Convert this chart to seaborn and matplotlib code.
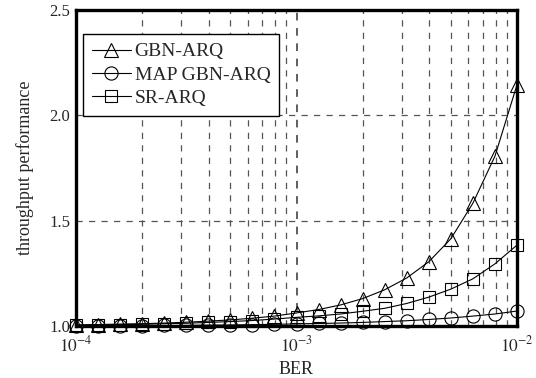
import numpy as np
import pandas as pd
import matplotlib
matplotlib.use("Agg")
import matplotlib.pyplot as plt
import seaborn as sns
from matplotlib.ticker import LogLocator, NullFormatter

# ---- data ----
ber = [1.000e-4, 1.259e-4, 1.585e-4, 1.995e-4, 2.512e-4, 3.162e-4, 3.981e-4,
       5.012e-4, 6.310e-4, 7.943e-4, 1.000e-3, 1.259e-3, 1.585e-3, 1.995e-3,
       2.512e-3, 3.162e-3, 3.981e-3, 5.012e-3, 6.310e-3, 7.943e-3, 1.000e-2]
gbn_arq = [1.005, 1.007, 1.009, 1.011, 1.014, 1.018, 1.023, 1.029, 1.037, 1.047,
           1.062, 1.078, 1.100, 1.130, 1.172, 1.228, 1.305, 1.414, 1.583, 1.806, 2.145]
map_gbn_arq = [1.001, 1.001, 1.0015, 1.002, 1.0025, 1.003, 1.004, 1.005, 1.0065, 1.008,
               1.010, 1.012, 1.014, 1.017, 1.021, 1.025, 1.031, 1.038, 1.047, 1.057, 1.071]
sr_arq = [1.004, 1.005, 1.007, 1.008, 1.011, 1.013, 1.017, 1.021, 1.026, 1.033,
          1.041, 1.048, 1.057, 1.070, 1.084, 1.107, 1.137, 1.175, 1.224, 1.295, 1.384]
series_names = ["GBN-ARQ", "MAP GBN-ARQ", "SR-ARQ"]
x_ticks = [1e-4, 1e-3, 1e-2]
x_tick_labels = [r"$10^{-4}$", r"$10^{-3}$", r"$10^{-2}$"]
y_ticks = [1.0, 1.5, 2.0, 2.5]
y_tick_labels = ["1.0", "1.5", "2.0", "2.5"]

sns.set_style("white")
plt.rcParams["font.family"] = ["Liberation Serif", "DejaVu Serif"]
plt.rcParams["mathtext.fontset"] = "stix"

fig = plt.figure(figsize=(5.36, 3.78), dpi=100)
ax = fig.add_axes([76/536, 1-326/378, 441/536, 316/378])

df = pd.DataFrame({"BER": ber, "GBN-ARQ": gbn_arq,
                   "MAP GBN-ARQ": map_gbn_arq, "SR-ARQ": sr_arq})
markers = {"GBN-ARQ": ("^", 10), "MAP GBN-ARQ": ("o", 9.5), "SR-ARQ": ("s", 8)}
for name in series_names:
    m, ms = markers[name]
    sns.lineplot(data=df, x="BER", y=name, ax=ax, color="black", lw=0.8,
                 marker=m, markersize=ms, markerfacecolor="none",
                 markeredgecolor="black", markeredgewidth=0.8,
                 label=name, clip_on=False, zorder=5)

ax.set_xscale("log")
ax.set_xlim(1e-4, 1e-2)
ax.set_ylim(1.0, 2.5)
ax.set_xticks(x_ticks)
ax.set_xticklabels(x_tick_labels, fontsize=12.5)
ax.xaxis.set_minor_locator(LogLocator(base=10, subs=np.arange(2, 10)))
ax.xaxis.set_minor_formatter(NullFormatter())
ax.set_yticks(y_ticks)
ax.set_yticklabels(y_tick_labels, fontsize=12)
ax.tick_params(axis="x", which="both", length=0, pad=7)
ax.tick_params(axis="y", which="both", length=0, pad=4)

gkw = dict(color="#555555", lw=0.9, ls=(0, (5, 5)))
ax.grid(which="major", axis="x", color="#333333", lw=1.1, ls=(0, (5, 5)))
ax.grid(which="minor", axis="x", **gkw)
ax.grid(which="major", axis="y", **gkw)

for s in ax.spines.values():
    s.set_visible(True)
    s.set_color("black")
    s.set_linewidth(2.4)

ax.set_xlabel("BER", fontsize=13, labelpad=4)
ax.set_ylabel("throughput performance", fontsize=13, labelpad=11)

leg = ax.legend(loc="upper left", bbox_to_anchor=(0.016, 0.924), borderaxespad=0,
                fontsize=14, frameon=True, fancybox=False, framealpha=1,
                edgecolor="black", handlelength=2.0, handletextpad=0.2,
                labelspacing=0.3, borderpad=0.45)
leg.get_frame().set_linewidth(1.0)

fig.savefig("out.png", dpi=100)
